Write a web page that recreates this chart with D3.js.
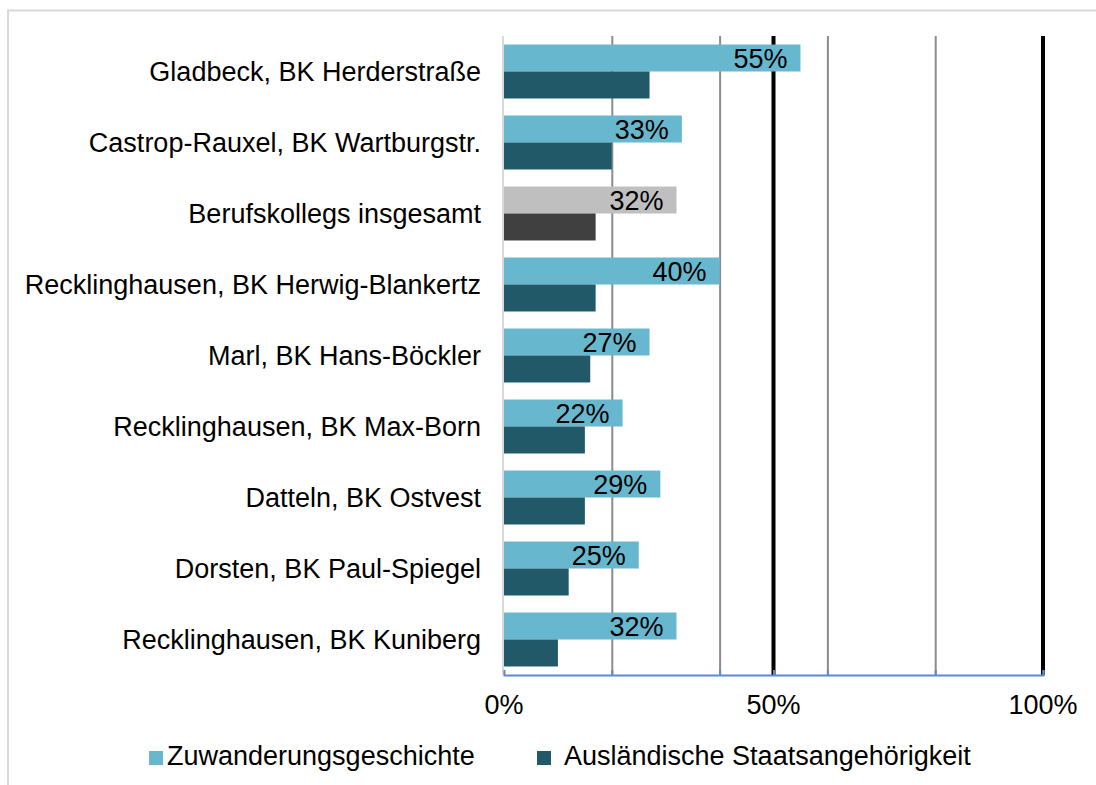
<!DOCTYPE html>
<html lang="de">
<head>
<meta charset="utf-8">
<title>Berufskollegs: Zuwanderungsgeschichte</title>
<script src="https://d3js.org/d3.v7.min.js"></script>
<style>
  body { margin: 0; background: #fff; }
  text { font-family: "Liberation Sans", Arial, sans-serif; fill: #000; }
</style>
</head>
<body>
<script>
// Data
var categories = ["Gladbeck, BK Herderstraße", "Castrop-Rauxel, BK Wartburgstr.", "Berufskollegs insgesamt",
                  "Recklinghausen, BK Herwig-Blankertz", "Marl, BK Hans-Böckler", "Recklinghausen, BK Max-Born",
                  "Datteln, BK Ostvest", "Dorsten, BK Paul-Spiegel", "Recklinghausen, BK Kuniberg"];
var zuwanderung = [55, 33, 32, 40, 27, 22, 29, 25, 32];
var auslaendisch = [27, 20, 17, 17, 16, 15, 15, 12, 10];
var seriesNames = ["Zuwanderungsgeschichte", "Ausländische Staatsangehörigkeit"];
var tickValues = [0, 50, 100];
var tickLabels = ["0%", "50%", "100%"];
var gridValues = [20, 40, 60, 80];
var refValues = [50, 100];
var totalIndex = 2; // "Berufskollegs insgesamt" is drawn in grey

var w = 1096, h = 785;
var plotLeft = 504, plotRight = 1043, plotTop = 36, plotBottom = 675;
var fs = 27;

var svg = d3.select("body").append("svg")
  .attr("width", w).attr("height", h);

// outer chart border (runs off the right and bottom)
svg.append("rect")
  .attr("x", 8).attr("y", 10.5)
  .attr("width", 1200).attr("height", 900)
  .attr("fill", "none").attr("stroke", "#d9d9d9").attr("stroke-width", 2);

var x = d3.scaleLinear().domain([0, 100]).range([plotLeft, plotRight]);
var y = d3.scaleBand().domain(categories).range([plotTop, plotBottom])
  .paddingInner(0.24).paddingOuter(0.12);
var ySub = d3.scaleBand().domain([0, 1]).range([0, y.bandwidth()]);

// grey gridlines
svg.append("g")
  .attr("transform", "translate(0," + plotBottom + ")")
  .call(d3.axisBottom(x).tickValues(gridValues).tickSize(-(plotBottom - plotTop)).tickFormat(""))
  .call(function(g) { g.select(".domain").remove(); })
  .selectAll("line").attr("stroke", "#8c8c8c").attr("stroke-width", 2);

// black reference lines at 50% and 100% (behind the bars)
svg.selectAll("line.ref")
  .data(refValues)
  .enter().append("line")
  .attr("class", "ref")
  .attr("x1", function(d) { return x(d); })
  .attr("x2", function(d) { return x(d); })
  .attr("y1", plotTop).attr("y2", plotBottom)
  .attr("stroke", "#000").attr("stroke-width", 4);

// left axis line
svg.append("line")
  .attr("x1", plotLeft - 1).attr("x2", plotLeft - 1).attr("y1", plotTop).attr("y2", plotBottom)
  .attr("stroke", "#d9d9d9").attr("stroke-width", 2);

var colLight = function(i) { return i === totalIndex ? "#bfbfbf" : "#67b8cf"; };
var colDark = function(i) { return i === totalIndex ? "#404040" : "#215968"; };

var rows = svg.selectAll("g.row")
  .data(categories)
  .enter().append("g")
  .attr("class", "row")
  .attr("transform", function(d) { return "translate(0," + y(d) + ")"; });

rows.append("rect")
  .attr("x", x(0))
  .attr("y", ySub(0))
  .attr("width", function(d, i) { return x(zuwanderung[i]) - x(0); })
  .attr("height", ySub.bandwidth())
  .attr("fill", function(d, i) { return colLight(i); });

rows.append("rect")
  .attr("x", x(0))
  .attr("y", ySub(1))
  .attr("width", function(d, i) { return x(auslaendisch[i]) - x(0); })
  .attr("height", ySub.bandwidth())
  .attr("fill", function(d, i) { return colDark(i); });

// x axis (blue)
var xAxis = svg.append("g")
  .attr("transform", "translate(0," + plotBottom + ")")
  .call(d3.axisBottom(x).tickValues(gridValues.concat(refValues)).tickSize(-5).tickFormat(""));
xAxis.select(".domain").attr("stroke", "#5b8bd0").attr("stroke-width", 2);
xAxis.selectAll("line").attr("stroke", "#5b8bd0").attr("stroke-width", 2);

svg.selectAll("text.tick")
  .data(tickValues)
  .enter().append("text")
  .attr("class", "tick")
  .attr("x", function(d) { return x(d); })
  .attr("y", 714)
  .attr("text-anchor", "middle")
  .attr("font-size", fs)
  .text(function(d, i) { return tickLabels[i]; });

// category labels
rows.append("text")
  .attr("x", 481)
  .attr("y", y.bandwidth() / 2 + 9.5)
  .attr("text-anchor", "end")
  .attr("font-size", fs)
  .text(function(d) { return d; });

// value labels, inside end of light bars
rows.append("text")
  .attr("x", function(d, i) { return x(zuwanderung[i]) - 13; })
  .attr("y", ySub(0) + ySub.bandwidth() / 2 + 9.5)
  .attr("text-anchor", "end")
  .attr("font-size", fs)
  .text(function(d, i) { return zuwanderung[i] + "%"; });

// legend
var legendX = [149, 537];
var legend = svg.selectAll("g.legend")
  .data(seriesNames)
  .enter().append("g")
  .attr("class", "legend")
  .attr("transform", function(d, i) { return "translate(" + legendX[i] + ",751)"; });

legend.append("rect")
  .attr("width", 14).attr("height", 14)
  .attr("fill", function(d, i) { return i === 0 ? "#67b8cf" : "#215968"; });

legend.append("text")
  .attr("x", function(d, i) { return i === 0 ? 18 : 27; })
  .attr("y", 14)
  .attr("font-size", fs)
  .text(function(d) { return d; });
</script>
</body>
</html>
